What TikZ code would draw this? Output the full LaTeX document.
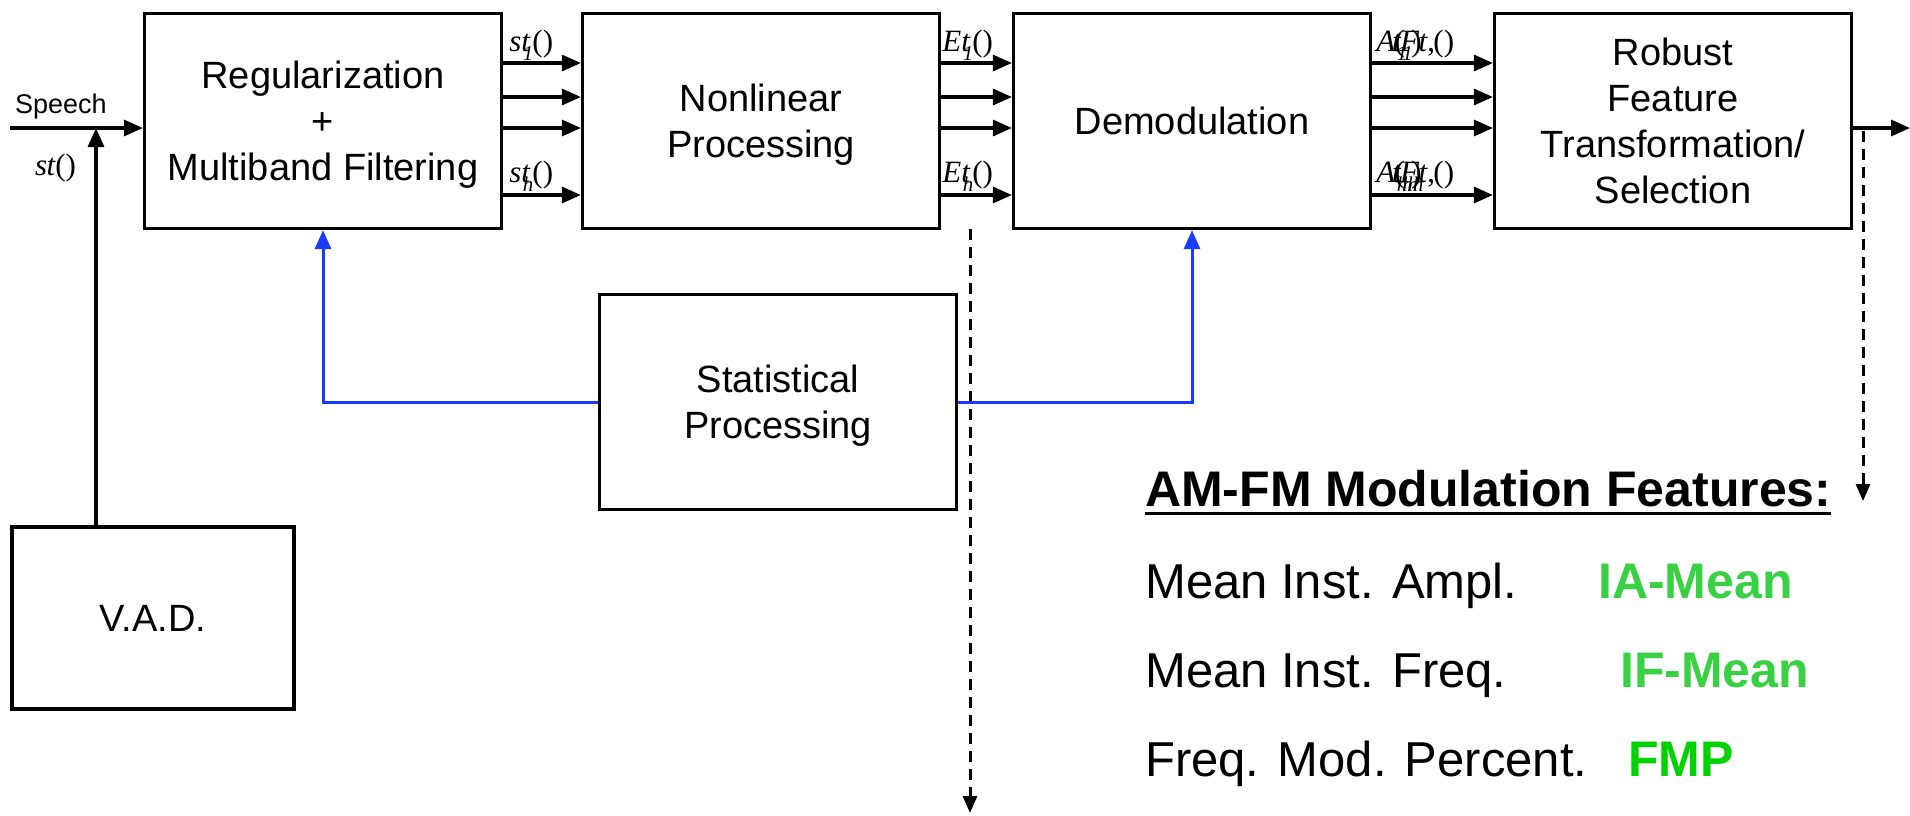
\documentclass[tikz,border=0pt]{standalone}
\usepackage{fontspec}
\setmainfont{Liberation Sans}
\newfontfamily\sigfont{Liberation Serif}
\usetikzlibrary{arrows.meta}

\definecolor{fbblue}{RGB}{25,60,255}
\definecolor{featgreen}{RGB}{58,208,68}
\definecolor{fmpgreen}{RGB}{0,210,0}

% band signal labels
\newcommand{\sublbl}[1]{\rlap{\kern.05em\raisebox{-.32em}{\fontsize{21}{21}\selectfont\itshape #1}}}
\newcommand{\bandsig}[2]{{\sigfont\itshape #1\sublbl{#2}t\kern.08em\upshape()}}
\newcommand{\amfmsig}[1]{{\sigfont\itshape A\sublbl{#1}\kern-.1em t\sublbl{#1}\kern-.2em\upshape(\kern-.15em\itshape F\kern-.25em\upshape)\kern-.1em\itshape t\upshape,\kern-.05em()}}

\begin{document}
\begin{tikzpicture}[x=1pt,y=-1pt,
    block/.style={draw, line width=3.2pt, minimum width=357pt, minimum height=215pt,
      inner sep=0pt, align=center, text depth=0pt, font=\fontsize{38}{46}\selectfont},
    flow/.style={line width=3.2pt, -{Triangle[length=19pt,width=16pt]}},
    fback/.style={flow, line width=3pt, draw=fbblue},
    tap/.style={line width=3pt, dash pattern=on 11pt off 7pt, -{Triangle[length=17pt,width=14pt]}},
    siglbl/.style={font=\fontsize{31}{31}\selectfont, inner sep=0pt, anchor=base west},
    feat/.style={font=\fontsize{49}{49}\selectfont, inner sep=0pt, anchor=base west},
    featname/.style={feat, font=\bfseries\fontsize{50}{50}\selectfont}]
  \useasboundingbox (0,0) rectangle (1910,815);

  % processing chain
  \node[block] (reg) at (323,121) {Regularization\\+\\Multiband Filtering};
  \node[block] (nonlin) at (761,121) {Nonlinear\\Processing};
  \node[block] (demod) at (1192,121) {Demodulation};
  \node[block] (robust) at (1673,121) {Robust\\Feature\\Transformation/\\Selection};
  \node[block] (stat) at (778,402) {Statistical\\Processing};
  \node[block, minimum width=282pt, minimum height=182pt] (vad) at (153,618) {V.A.D.};

  % speech input and V.A.D.
  \coordinate (speechin) at (10,128);
  \coordinate (vadjoin) at (96,128);
  \draw[flow] (speechin) -- (speechin -| reg.west);
  \draw[flow] (vadjoin |- vad.north) -- (vadjoin);
  \node[siglbl, font=\fontsize{27}{27}\selectfont] (speechlbl) at (15,113) {Speech};
  \node[siglbl] (slbl) at (35,175) {{\sigfont\itshape s\kern-.02em t\upshape()}};

  % filter bank channels
  \foreach \y in {63,97,128,195} {
    \draw[flow] (reg.east |- 0,\y) -- (nonlin.west |- 0,\y);
    \draw[flow] (nonlin.east |- 0,\y) -- (demod.west |- 0,\y);
    \draw[flow] (demod.east |- 0,\y) -- (robust.west |- 0,\y);
  }
  \node[siglbl] (s1) at ([xshift=6pt]reg.east |- 0,51) {\bandsig{s}{1}};
  \node[siglbl] (sh) at ([xshift=6pt]reg.east |- 0,182) {\bandsig{s}{h}};
  \node[siglbl] (e1) at ([xshift=1pt]nonlin.east |- 0,51) {\bandsig{E}{1}};
  \node[siglbl] (eh) at ([xshift=1pt]nonlin.east |- 0,182) {\bandsig{E}{h}};
  \node[siglbl] (a1) at ([xshift=4pt]demod.east |- 0,51) {\amfmsig{1}};
  \node[siglbl] (ah) at ([xshift=4pt]demod.east |- 0,182) {\amfmsig{hh}};

  % output and taps
  \coordinate (out) at (1910,128);
  \draw[flow] (robust.east |- out) -- (out);
  \coordinate (tapE) at (970,229);
  \coordinate (tapEend) at (970,813);
  \draw[tap] (tapE) -- (tapEend);
  \coordinate (tapF) at (1863,131);
  \coordinate (tapFend) at (1863,501);
  \draw[tap] (tapF) -- (tapFend);

  % statistics feedback
  \draw[fback] (stat.west) -| (reg.south);
  \draw[fback] (stat.east) -| (demod.south);

  % feature list
  \node[featname] (amfm) at (1145,506) {AM-FM Modulation Features:};
  \draw[line width=3pt] ([yshift=-7pt]amfm.base west) -- ([yshift=-7pt]amfm.base east);
  \node[feat] (ampl) at (1145,598) {Mean Inst. Ampl.};
  \node[feat] (freq) at (1145,687) {Mean Inst. Freq.};
  \node[feat] (pct) at (1145,776) {Freq. Mod. Percent.};
  \node[featname, text=featgreen] (iamean) at (1598,598) {IA-Mean};
  \node[featname, text=featgreen] (ifmean) at (1620,687) {IF-Mean};
  \node[featname, text=fmpgreen] (fmpname) at (1628,776) {FMP};
\end{tikzpicture}
\end{document}
